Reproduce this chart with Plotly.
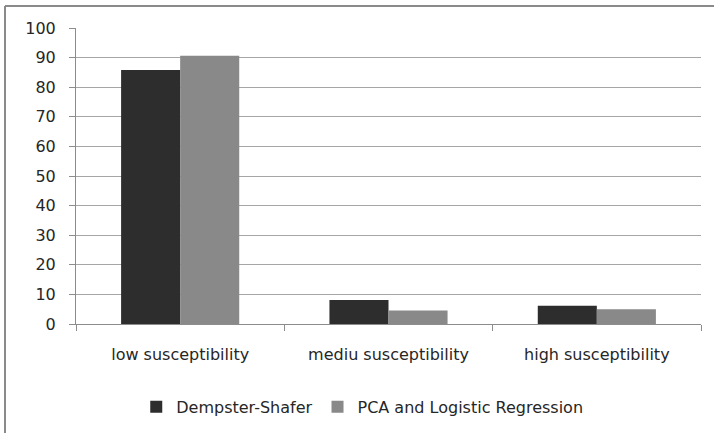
import plotly.graph_objects as go

categories = ["low susceptibility", "mediu susceptibility", "high susceptibility"]
dempster_shafer = [85.8, 8.1, 6.2]
pca_logistic = [90.6, 4.6, 5.0]
y_ticks = [0, 10, 20, 30, 40, 50, 60, 70, 80, 90, 100]

font_family = "'DejaVu Sans', 'Noto Sans', sans-serif"

fig = go.Figure()
fig.add_trace(go.Bar(name="Dempster-Shafer", x=categories, y=dempster_shafer,
                     marker=dict(color="#2d2d2d", line=dict(width=0))))
fig.add_trace(go.Bar(name="PCA and Logistic Regression", x=categories, y=pca_logistic,
                     marker=dict(color="#898989", line=dict(width=0))))

frame_line = dict(color="#8a8a8a", width=2)

fig.update_layout(
    width=714, height=433,
    margin=dict(l=76, r=13, t=28, b=109, autoexpand=False),
    paper_bgcolor="white", plot_bgcolor="white",
    barmode="group", bargap=0.433, bargroupgap=0,
    font=dict(family=font_family, size=16, color="#262626"),
    showlegend=True,
    legend=dict(orientation="h", x=0.458, xanchor="center", y=-0.28, yanchor="middle",
                font=dict(size=16), itemwidth=30, traceorder="normal"),
    xaxis=dict(showline=True, linecolor="#8c8c8c", linewidth=1, ticks="outside",
               tickson="boundaries", ticklen=6, tickcolor="#8c8c8c",
               showgrid=False, ticklabelstandoff=16, automargin=False),
    yaxis=dict(range=[0, 100], tickvals=y_ticks, showline=True, linecolor="#8c8c8c",
               linewidth=1, ticks="outside", ticklen=6, tickcolor="#8c8c8c",
               showgrid=True, gridcolor="#a6a6a6", gridwidth=1, zeroline=False,
               ticklabelstandoff=10, automargin=False),
    shapes=[
        dict(type="line", xref="paper", yref="paper", x0=-0.1136, x1=1.3,
             y0=1.074, y1=1.074, line=frame_line, layer="below"),
        dict(type="line", xref="paper", yref="paper", x0=-0.1136, x1=-0.1136,
             y0=-0.8, y1=1.074, line=frame_line, layer="below"),
    ],
)

fig.write_html("out.html", config={"displayModeBar": False},
               post_script="document.body.style.margin='0';")
